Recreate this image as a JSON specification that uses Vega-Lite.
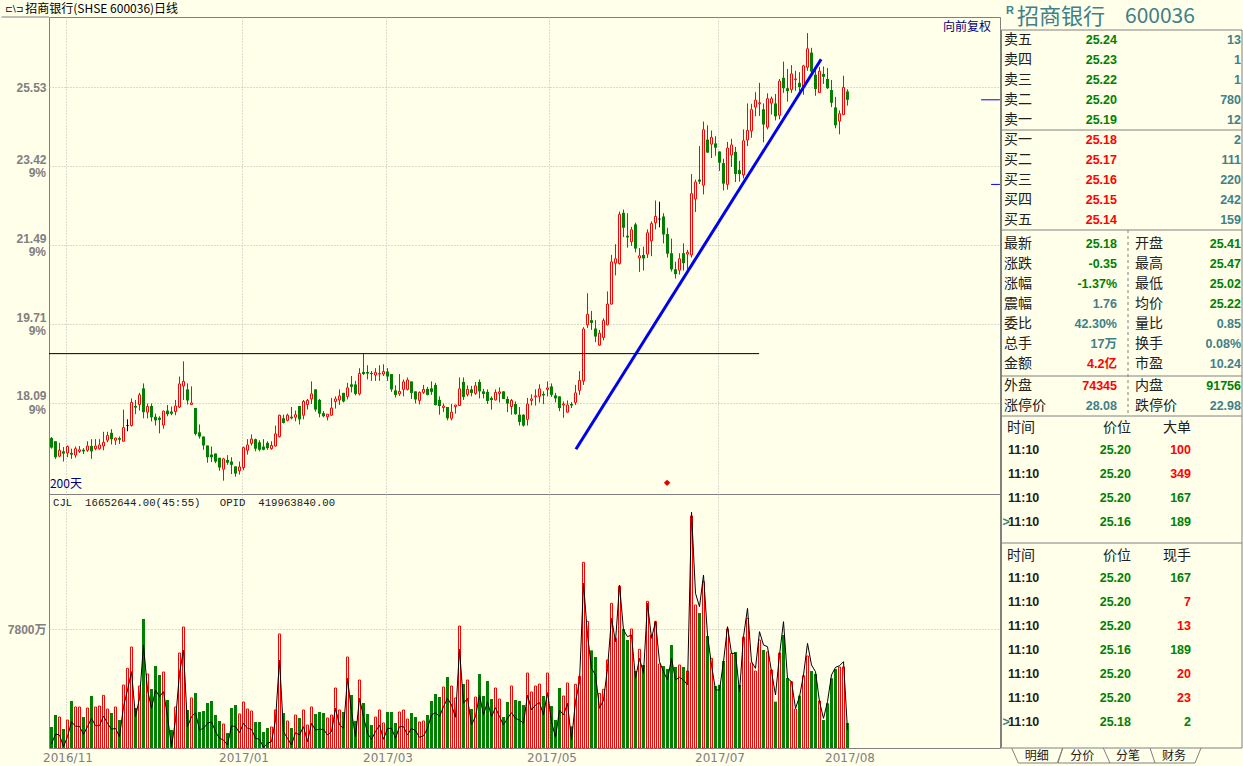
{"$schema":"https://vega.github.io/schema/vega-lite/v6.json","background":"#FFFFEA","padding":0,"autosize":{"type":"pad"},"spacing":0,
"config":{"view":{"stroke":null},"concat":{"spacing":0},"axis":{"title":null},"text":{"font":"Noto Sans CJK SC"}},
"datasets":{"d":[
{"i":0,"o":17.41,"h":17.43,"l":17.21,"c":17.23,"v":1377,"m":262},
{"i":1,"o":17.35,"h":17.35,"l":17.02,"c":17.05,"v":2163,"m":918},
{"i":2,"o":17.07,"h":17.32,"l":17.05,"c":17.18,"v":2032,"m":852},
{"i":3,"o":17.16,"h":17.24,"l":16.97,"c":17.12,"v":1245,"m":87},
{"i":4,"o":17.13,"h":17.27,"l":17.05,"c":17.25,"v":1835,"m":743},
{"i":5,"o":17.13,"h":17.21,"l":17.02,"c":17.10,"v":3081,"m":1726},
{"i":6,"o":17.09,"h":17.25,"l":17.04,"c":17.21,"v":2688,"m":1420},
{"i":7,"o":17.16,"h":17.26,"l":17.13,"c":17.19,"v":2688,"m":1420},
{"i":8,"o":17.19,"h":17.22,"l":17.11,"c":17.16,"v":2032,"m":896},
{"i":9,"o":17.18,"h":17.35,"l":17.15,"c":17.26,"v":2622,"m":1398},
{"i":10,"o":17.26,"h":17.39,"l":17.02,"c":17.16,"v":3409,"m":1945},
{"i":11,"o":17.21,"h":17.39,"l":17.18,"c":17.26,"v":2688,"m":1464},
{"i":12,"o":17.21,"h":17.39,"l":17.19,"c":17.28,"v":2753,"m":1464},
{"i":13,"o":17.26,"h":17.53,"l":17.18,"c":17.33,"v":3452,"m":2098},
{"i":14,"o":17.37,"h":17.53,"l":17.33,"c":17.46,"v":2556,"m":1617},
{"i":15,"o":17.51,"h":17.58,"l":17.29,"c":17.39,"v":2294,"m":1224},
{"i":16,"o":17.37,"h":17.42,"l":17.28,"c":17.41,"v":2688,"m":1289},
{"i":17,"o":17.41,"h":17.44,"l":17.30,"c":17.38,"v":1835,"m":743},
{"i":18,"o":17.35,"h":17.96,"l":17.35,"c":17.61,"v":4130,"m":2709},
{"i":19,"o":17.65,"h":17.77,"l":17.54,"c":17.65,"v":5222,"m":3802},
{"i":20,"o":17.65,"h":18.18,"l":17.63,"c":18.10,"v":6621,"m":5004},
{"i":21,"o":18.03,"h":18.15,"l":17.87,"c":18.00,"v":2622,"m":2054},
{"i":22,"o":18.06,"h":18.29,"l":17.94,"c":18.25,"v":4064,"m":3256},
{"i":23,"o":18.38,"h":18.48,"l":17.79,"c":17.91,"v":8456,"m":6752},
{"i":24,"o":17.91,"h":18.08,"l":17.79,"c":18.02,"v":4851,"m":3802},
{"i":25,"o":18.03,"h":18.08,"l":17.73,"c":17.81,"v":3867,"m":2600},
{"i":26,"o":17.82,"h":17.88,"l":17.65,"c":17.75,"v":5375,"m":3802},
{"i":27,"o":17.80,"h":17.83,"l":17.50,"c":17.76,"v":4785,"m":3365},
{"i":28,"o":17.66,"h":17.94,"l":17.59,"c":17.93,"v":4982,"m":3693},
{"i":29,"o":17.94,"h":18.05,"l":17.83,"c":17.87,"v":3146,"m":2054},
{"i":30,"o":17.92,"h":18.02,"l":17.85,"c":17.88,"v":1180,"m":87},
{"i":31,"o":17.92,"h":18.15,"l":17.85,"c":18.03,"v":2688,"m":1835},
{"i":32,"o":18.01,"h":18.62,"l":17.99,"c":18.47,"v":6227,"m":4894},
{"i":33,"o":18.43,"h":18.93,"l":18.15,"c":18.52,"v":7932,"m":6424},
{"i":34,"o":18.36,"h":18.48,"l":18.06,"c":18.14,"v":2491,"m":1398},
{"i":35,"o":18.06,"h":18.42,"l":18.06,"c":18.09,"v":3278,"m":2054},
{"i":36,"o":17.99,"h":17.99,"l":17.46,"c":17.49,"v":3605,"m":2316},
{"i":37,"o":17.52,"h":17.67,"l":17.40,"c":17.44,"v":2360,"m":1180},
{"i":38,"o":17.44,"h":17.44,"l":17.19,"c":17.27,"v":2425,"m":1289},
{"i":39,"o":17.27,"h":17.27,"l":16.95,"c":17.05,"v":2950,"m":1617},
{"i":40,"o":17.10,"h":17.25,"l":16.96,"c":17.05,"v":3081,"m":1726},
{"i":41,"o":17.12,"h":17.12,"l":16.94,"c":16.97,"v":2163,"m":1071},
{"i":42,"o":17.04,"h":17.04,"l":16.80,"c":16.86,"v":1770,"m":634},
{"i":43,"o":16.83,"h":17.04,"l":16.62,"c":17.02,"v":1573,"m":524},
{"i":44,"o":17.00,"h":17.09,"l":16.91,"c":16.95,"v":983,"m":197},
{"i":45,"o":16.97,"h":17.05,"l":16.74,"c":16.91,"v":2622,"m":1464},
{"i":46,"o":16.88,"h":16.88,"l":16.69,"c":16.75,"v":2819,"m":1398},
{"i":47,"o":16.80,"h":16.97,"l":16.73,"c":16.87,"v":2229,"m":1005},
{"i":48,"o":16.86,"h":17.25,"l":16.81,"c":17.23,"v":3015,"m":1617},
{"i":49,"o":17.18,"h":17.39,"l":17.10,"c":17.28,"v":2556,"m":1289},
{"i":50,"o":17.31,"h":17.48,"l":17.27,"c":17.39,"v":2425,"m":1224},
{"i":51,"o":17.39,"h":17.40,"l":17.16,"c":17.21,"v":1704,"m":634},
{"i":52,"o":17.33,"h":17.37,"l":17.16,"c":17.19,"v":1704,"m":568},
{"i":53,"o":17.25,"h":17.39,"l":17.18,"c":17.19,"v":1049,"m":44},
{"i":54,"o":17.32,"h":17.35,"l":17.19,"c":17.22,"v":1311,"m":306},
{"i":55,"o":17.21,"h":17.35,"l":17.19,"c":17.27,"v":1377,"m":415},
{"i":56,"o":17.26,"h":17.65,"l":17.25,"c":17.49,"v":2491,"m":1835},
{"i":57,"o":17.44,"h":17.86,"l":17.42,"c":17.85,"v":7473,"m":5768},
{"i":58,"o":17.79,"h":17.86,"l":17.69,"c":17.70,"v":2294,"m":1071},
{"i":59,"o":17.75,"h":17.88,"l":17.73,"c":17.85,"v":1770,"m":634},
{"i":60,"o":17.82,"h":18.01,"l":17.77,"c":17.79,"v":1311,"m":197},
{"i":61,"o":17.81,"h":17.94,"l":17.73,"c":17.86,"v":2163,"m":1005},
{"i":62,"o":18.03,"h":18.03,"l":17.67,"c":17.77,"v":1967,"m":852},
{"i":63,"o":17.85,"h":18.15,"l":17.77,"c":18.12,"v":2491,"m":1398},
{"i":64,"o":18.06,"h":18.17,"l":17.96,"c":18.14,"v":1508,"m":415},
{"i":65,"o":18.17,"h":18.52,"l":18.07,"c":18.27,"v":2688,"m":1617},
{"i":66,"o":18.36,"h":18.36,"l":17.92,"c":17.96,"v":2229,"m":1180},
{"i":67,"o":18.15,"h":18.17,"l":17.81,"c":17.88,"v":2360,"m":1224},
{"i":68,"o":17.89,"h":17.93,"l":17.81,"c":17.83,"v":2294,"m":1224},
{"i":69,"o":17.82,"h":17.87,"l":17.75,"c":17.87,"v":1967,"m":852},
{"i":70,"o":17.85,"h":18.19,"l":17.84,"c":17.99,"v":2163,"m":1071},
{"i":71,"o":18.12,"h":18.22,"l":17.98,"c":18.17,"v":3933,"m":2600},
{"i":72,"o":18.15,"h":18.36,"l":18.05,"c":18.23,"v":2491,"m":1508},
{"i":73,"o":18.29,"h":18.29,"l":18.10,"c":18.12,"v":2360,"m":1289},
{"i":74,"o":18.22,"h":18.49,"l":18.16,"c":18.39,"v":5965,"m":4567},
{"i":75,"o":18.46,"h":18.63,"l":18.30,"c":18.41,"v":3474,"m":2382},
{"i":76,"o":18.46,"h":18.53,"l":18.24,"c":18.27,"v":1770,"m":743},
{"i":77,"o":18.27,"h":18.79,"l":18.24,"c":18.68,"v":4457,"m":3256},
{"i":78,"o":18.71,"h":19.10,"l":18.65,"c":18.67,"v":2950,"m":2054},
{"i":79,"o":18.71,"h":18.85,"l":18.56,"c":18.68,"v":2229,"m":961},
{"i":80,"o":18.69,"h":18.73,"l":18.53,"c":18.67,"v":1508,"m":568},
{"i":81,"o":18.65,"h":18.79,"l":18.53,"c":18.70,"v":2032,"m":1071},
{"i":82,"o":18.67,"h":18.85,"l":18.53,"c":18.68,"v":2491,"m":1508},
{"i":83,"o":18.67,"h":18.87,"l":18.63,"c":18.72,"v":1639,"m":568},
{"i":84,"o":18.72,"h":18.79,"l":18.53,"c":18.62,"v":2360,"m":1289},
{"i":85,"o":18.67,"h":18.67,"l":18.31,"c":18.36,"v":2360,"m":1289},
{"i":86,"o":18.34,"h":18.44,"l":18.20,"c":18.25,"v":1639,"m":634},
{"i":87,"o":18.27,"h":18.67,"l":18.23,"c":18.32,"v":2360,"m":1398},
{"i":88,"o":18.36,"h":18.56,"l":18.22,"c":18.51,"v":2491,"m":1398},
{"i":89,"o":18.36,"h":18.60,"l":18.34,"c":18.55,"v":1901,"m":852},
{"i":90,"o":18.52,"h":18.52,"l":18.17,"c":18.29,"v":2294,"m":1289},
{"i":91,"o":18.32,"h":18.32,"l":18.08,"c":18.16,"v":2032,"m":1136},
{"i":92,"o":18.14,"h":18.32,"l":18.06,"c":18.30,"v":1704,"m":699},
{"i":93,"o":18.30,"h":18.45,"l":18.27,"c":18.36,"v":1770,"m":787},
{"i":94,"o":18.37,"h":18.41,"l":18.24,"c":18.25,"v":2163,"m":1289},
{"i":95,"o":18.38,"h":18.52,"l":18.25,"c":18.31,"v":3081,"m":2163},
{"i":96,"o":18.45,"h":18.49,"l":18.04,"c":18.05,"v":3540,"m":2316},
{"i":97,"o":18.15,"h":18.22,"l":17.86,"c":18.03,"v":3343,"m":2054},
{"i":98,"o":18.00,"h":18.08,"l":17.91,"c":18.03,"v":3999,"m":2709},
{"i":99,"o":18.01,"h":18.01,"l":17.75,"c":17.79,"v":4654,"m":3256},
{"i":100,"o":17.79,"h":18.07,"l":17.75,"c":17.91,"v":4064,"m":2819},
{"i":101,"o":18.02,"h":18.05,"l":17.88,"c":18.05,"v":3278,"m":2010},
{"i":102,"o":18.04,"h":18.60,"l":18.04,"c":18.37,"v":7997,"m":6468},
{"i":103,"o":18.51,"h":18.60,"l":18.15,"c":18.21,"v":4195,"m":2928},
{"i":104,"o":18.26,"h":18.44,"l":18.22,"c":18.36,"v":4457,"m":3256},
{"i":105,"o":18.36,"h":18.43,"l":18.22,"c":18.29,"v":2556,"m":1508},
{"i":106,"o":18.28,"h":18.51,"l":18.25,"c":18.43,"v":3343,"m":2054},
{"i":107,"o":18.51,"h":18.56,"l":18.18,"c":18.32,"v":4851,"m":3474},
{"i":108,"o":18.32,"h":18.37,"l":18.18,"c":18.27,"v":3409,"m":2163},
{"i":109,"o":18.31,"h":18.36,"l":18.07,"c":18.13,"v":4392,"m":3037},
{"i":110,"o":18.19,"h":18.22,"l":17.96,"c":18.15,"v":3212,"m":2054},
{"i":111,"o":18.15,"h":18.36,"l":18.14,"c":18.30,"v":3933,"m":2644},
{"i":112,"o":18.28,"h":18.40,"l":18.10,"c":18.31,"v":3212,"m":2054},
{"i":113,"o":18.32,"h":18.32,"l":18.17,"c":18.17,"v":2032,"m":1508},
{"i":114,"o":18.17,"h":18.22,"l":17.91,"c":18.08,"v":3015,"m":1945},
{"i":115,"o":18.02,"h":18.17,"l":17.86,"c":18.14,"v":4064,"m":2316},
{"i":116,"o":18.07,"h":18.12,"l":17.86,"c":17.87,"v":3146,"m":1945},
{"i":117,"o":17.86,"h":18.01,"l":17.65,"c":17.72,"v":3081,"m":1835},
{"i":118,"o":17.86,"h":17.87,"l":17.63,"c":17.65,"v":2819,"m":1617},
{"i":119,"o":17.77,"h":18.19,"l":17.65,"c":18.07,"v":4916,"m":3474},
{"i":120,"o":18.14,"h":18.26,"l":18.04,"c":18.17,"v":3671,"m":2491},
{"i":121,"o":18.21,"h":18.36,"l":18.04,"c":18.23,"v":4064,"m":2819},
{"i":122,"o":18.22,"h":18.46,"l":18.10,"c":18.37,"v":4195,"m":2972},
{"i":123,"o":18.27,"h":18.32,"l":18.07,"c":18.24,"v":3409,"m":2163},
{"i":124,"o":18.36,"h":18.52,"l":18.22,"c":18.39,"v":4916,"m":3627},
{"i":125,"o":18.42,"h":18.48,"l":18.21,"c":18.25,"v":2753,"m":1726},
{"i":126,"o":18.24,"h":18.29,"l":18.10,"c":18.18,"v":1835,"m":699},
{"i":127,"o":18.22,"h":18.22,"l":17.93,"c":17.99,"v":3933,"m":2491},
{"i":128,"o":18.05,"h":18.12,"l":17.80,"c":18.07,"v":3409,"m":2163},
{"i":129,"o":17.91,"h":18.14,"l":17.90,"c":18.05,"v":4261,"m":2928},
{"i":130,"o":18.07,"h":18.11,"l":17.99,"c":18.04,"v":1420,"m":524},
{"i":131,"o":18.10,"h":18.45,"l":18.05,"c":18.29,"v":4173,"m":3037},
{"i":132,"o":18.34,"h":18.73,"l":18.25,"c":18.54,"v":4698,"m":4348},
{"i":133,"o":18.53,"h":19.65,"l":18.45,"c":19.61,"v":12170,"m":10794},
{"i":134,"o":19.70,"h":20.39,"l":19.63,"c":19.93,"v":8303,"m":7407},
{"i":135,"o":19.80,"h":20.00,"l":19.59,"c":19.74,"v":6402,"m":5222},
{"i":136,"o":19.62,"h":19.80,"l":19.33,"c":19.45,"v":5965,"m":4785},
{"i":137,"o":19.27,"h":19.59,"l":19.26,"c":19.52,"v":3583,"m":2600},
{"i":138,"o":19.43,"h":19.84,"l":19.37,"c":19.79,"v":3846,"m":3146},
{"i":139,"o":19.70,"h":20.43,"l":19.69,"c":20.15,"v":5768,"m":5222},
{"i":140,"o":20.15,"h":21.26,"l":20.14,"c":21.10,"v":9483,"m":8500},
{"i":141,"o":21.07,"h":21.51,"l":20.79,"c":21.17,"v":7189,"m":6970},
{"i":142,"o":21.06,"h":22.29,"l":21.04,"c":22.22,"v":10597,"m":10685},
{"i":143,"o":22.26,"h":22.34,"l":21.68,"c":21.90,"v":7800,"m":7735},
{"i":144,"o":21.71,"h":22.25,"l":21.43,"c":21.67,"v":7079,"m":7298},
{"i":145,"o":21.57,"h":21.92,"l":21.47,"c":21.85,"v":7800,"m":7407},
{"i":146,"o":21.98,"h":22.02,"l":21.32,"c":21.41,"v":5047,"m":4567},
{"i":147,"o":21.19,"h":21.42,"l":20.87,"c":21.24,"v":6468,"m":5878},
{"i":148,"o":21.26,"h":21.45,"l":20.90,"c":21.18,"v":5441,"m":4894},
{"i":149,"o":21.28,"h":21.86,"l":21.19,"c":21.78,"v":9614,"m":9483},
{"i":150,"o":21.59,"h":22.05,"l":21.23,"c":22.00,"v":7407,"m":7189},
{"i":151,"o":22.02,"h":22.56,"l":21.86,"c":22.17,"v":8303,"m":8281},
{"i":152,"o":22.11,"h":22.53,"l":21.91,"c":22.11,"v":5506,"m":5659},
{"i":153,"o":22.17,"h":22.25,"l":21.53,"c":21.74,"v":5375,"m":5004},
{"i":154,"o":21.75,"h":21.90,"l":21.20,"c":21.29,"v":5178,"m":4457},
{"i":155,"o":21.30,"h":21.64,"l":20.88,"c":20.93,"v":6752,"m":5878},
{"i":156,"o":20.93,"h":21.10,"l":20.72,"c":20.82,"v":5310,"m":4457},
{"i":157,"o":20.91,"h":21.30,"l":20.81,"c":21.17,"v":5441,"m":4632},
{"i":158,"o":21.30,"h":21.53,"l":20.90,"c":21.07,"v":5310,"m":4457},
{"i":159,"o":21.28,"h":21.38,"l":20.93,"c":21.32,"v":5047,"m":4130},
{"i":160,"o":21.26,"h":23.22,"l":21.20,"c":22.73,"v":15208,"m":15448},
{"i":161,"o":22.60,"h":23.08,"l":22.28,"c":23.02,"v":9374,"m":10138},
{"i":162,"o":23.08,"h":23.94,"l":22.97,"c":23.03,"v":8849,"m":9264},
{"i":163,"o":22.94,"h":24.59,"l":22.71,"c":24.37,"v":10903,"m":11340},
{"i":164,"o":24.11,"h":24.49,"l":23.77,"c":23.77,"v":7342,"m":7407},
{"i":165,"o":23.99,"h":24.35,"l":23.63,"c":24.17,"v":5878,"m":5441},
{"i":166,"o":24.01,"h":24.20,"l":23.69,"c":23.90,"v":4064,"m":3802},
{"i":167,"o":23.80,"h":23.80,"l":23.30,"c":23.51,"v":4130,"m":3802},
{"i":168,"o":23.50,"h":23.61,"l":22.81,"c":22.98,"v":5703,"m":5659},
{"i":169,"o":22.96,"h":24.05,"l":22.83,"c":23.89,"v":7800,"m":7953},
{"i":170,"o":23.71,"h":24.13,"l":23.40,"c":23.97,"v":6205,"m":6205},
{"i":171,"o":23.79,"h":23.92,"l":23.02,"c":23.22,"v":6293,"m":6205},
{"i":172,"o":23.32,"h":23.56,"l":23.03,"c":23.22,"v":4130,"m":3693},
{"i":173,"o":23.20,"h":24.38,"l":23.11,"c":24.08,"v":7276,"m":7298},
{"i":174,"o":24.10,"h":25.08,"l":23.94,"c":24.35,"v":8500,"m":9155},
{"i":175,"o":24.34,"h":25.07,"l":24.16,"c":24.91,"v":5572,"m":5659},
{"i":176,"o":24.98,"h":25.39,"l":24.73,"c":25.17,"v":5047,"m":5222},
{"i":177,"o":25.07,"h":25.65,"l":24.74,"c":25.10,"v":7079,"m":7626},
{"i":178,"o":24.92,"h":25.08,"l":24.04,"c":24.51,"v":6424,"m":6752},
{"i":179,"o":24.44,"h":25.36,"l":24.38,"c":25.21,"v":6293,"m":6642},
{"i":180,"o":25.09,"h":25.27,"l":24.78,"c":25.21,"v":5113,"m":5004},
{"i":181,"o":25.08,"h":25.34,"l":24.62,"c":24.73,"v":3037,"m":3474},
{"i":182,"o":24.76,"h":25.76,"l":24.65,"c":25.70,"v":6227,"m":6096},
{"i":183,"o":25.79,"h":26.25,"l":25.37,"c":25.50,"v":7407,"m":8281},
{"i":184,"o":25.50,"h":26.04,"l":25.13,"c":25.42,"v":4589,"m":4567},
{"i":185,"o":25.46,"h":26.15,"l":25.37,"c":25.90,"v":4348,"m":4348},
{"i":186,"o":25.74,"h":25.99,"l":25.43,"c":25.76,"v":2556,"m":2600},
{"i":187,"o":25.65,"h":25.95,"l":25.42,"c":25.53,"v":3430,"m":3365},
{"i":188,"o":25.54,"h":26.16,"l":25.32,"c":26.13,"v":4741,"m":4785},
{"i":189,"o":26.09,"h":27.08,"l":25.99,"c":26.62,"v":6031,"m":6861},
{"i":190,"o":26.51,"h":26.65,"l":25.88,"c":25.97,"v":5047,"m":5441},
{"i":191,"o":25.88,"h":26.11,"l":25.29,"c":25.48,"v":4851,"m":5004},
{"i":192,"o":25.38,"h":26.10,"l":25.37,"c":25.98,"v":3081,"m":3037},
{"i":193,"o":25.90,"h":26.11,"l":25.62,"c":25.82,"v":1835,"m":1945},
{"i":194,"o":25.76,"h":26.07,"l":25.48,"c":25.50,"v":2928,"m":3037},
{"i":195,"o":25.45,"h":25.73,"l":24.98,"c":25.10,"v":4567,"m":4785},
{"i":196,"o":24.97,"h":25.26,"l":24.41,"c":24.49,"v":5178,"m":5288},
{"i":197,"o":24.60,"h":24.89,"l":24.25,"c":24.80,"v":5310,"m":5397},
{"i":198,"o":24.78,"h":25.85,"l":24.76,"c":25.52,"v":5310,"m":5659},
{"i":199,"o":25.41,"h":25.47,"l":25.02,"c":25.18,"v":1639,"m":1180}
]},
"hconcat":[
{"bounds":"flush","spacing":0,"vconcat":[
{"width":951,"height":17,"data":{"values":[{"col":-50,"col2":0,"row":0}]},
 "layer":[
 {"mark":{"type":"rule","color":"#808080","strokeWidth":1},"encoding":{"x":{"field":"col","type":"quantitative","scale":{"domain":[0,951]},"axis":null},"x2":{"field":"col2"},"y":{"field":"row","type":"quantitative","scale":{"domain":[0,1]},"axis":null}}},
 {"data":{"values":[{"col":-46,"row":0.5,"t":"⊏\\⊐"}]},"mark":{"type":"text","align":"left","font":"DejaVu Sans","fontSize":9,"color":"#000000"},"encoding":{"x":{"field":"col","type":"quantitative"},"y":{"field":"row","type":"quantitative"},"text":{"field":"t"}}},
 {"data":{"values":[{"col":-25,"row":0.5,"t":"招商银行(SHSE 600036)日线"}]},"mark":{"type":"text","align":"left","fontSize":12,"color":"#000000"},"encoding":{"x":{"field":"col","type":"quantitative"},"y":{"field":"row","type":"quantitative"},"text":{"field":"t"}}}
 ]},
{"width":951,"height":477,"view":{"stroke":"#808080"},"data":{"name":"d"},
 "encoding":{"x":{"field":"i","type":"quantitative","scale":{"domain":[-0.625,237.125],"nice":false,"zero":false,"padding":0},"axis":{"values":[3.5,47.5,83.5,124.5,166.5],"labels":false,"ticks":false,"domain":false,"grid":true,"gridColor":"#B4B4B4","gridDash":[1,2]}}},
 "layer":[
 {"mark":{"type":"rule","color":"#FF0000","strokeWidth":1},"transform":[{"filter":"datum.c>datum.o"}],"encoding":{"y":{"field":"h","type":"quantitative","scale":{"type":"log","domain":[16.38,27.56],"nice":false,"zero":false},"axis":{"values":[25.53,23.42,21.49,19.71,18.09],"format":".2f","ticks":false,"domain":false,"grid":true,"gridColor":"#B4B4B4","gridDash":[1,2],"labelFont":"Liberation Sans","labelFontWeight":"bold","labelFontSize":12,"labelColor":"#808080","labelPadding":3,"labelOffset":{"condition":{"test":"datum.value>25","value":0},"value":-7}}},"y2":{"field":"l"}}},
 {"mark":{"type":"rule","color":"#007F00","strokeWidth":1},"transform":[{"filter":"datum.c<datum.o"}],"encoding":{"y":{"field":"h","type":"quantitative"},"y2":{"field":"l"}}},
 {"mark":{"type":"rule","color":"#000000","strokeWidth":1},"transform":[{"filter":"datum.c==datum.o"}],"encoding":{"y":{"field":"h","type":"quantitative"},"y2":{"field":"l"}}},
 {"mark":{"type":"bar","size":2,"fill":"#FFFFEA","stroke":"#FF0000","strokeWidth":1},"transform":[{"filter":"datum.c>datum.o"}],"encoding":{"y":{"field":"o","type":"quantitative"},"y2":{"field":"c"}}},
 {"mark":{"type":"bar","size":3,"fill":"#007F00"},"transform":[{"filter":"datum.c<datum.o"}],"encoding":{"y":{"field":"o","type":"quantitative"},"y2":{"field":"c"}}},
 {"mark":{"type":"tick","color":"#000000","orient":"horizontal","size":3,"thickness":1},"transform":[{"filter":"datum.c==datum.o"}],"encoding":{"y":{"field":"o","type":"quantitative"}}},
 {"data":{"values":[{"i":-0.625,"p":19.09},{"i":176.9,"p":19.09}]},"mark":{"type":"line","color":"#000000","strokeWidth":1},"encoding":{"x":{"field":"i","type":"quantitative"},"y":{"field":"p","type":"quantitative"}}},
 {"data":{"values":[{"i":131.1,"p":17.2},{"i":192.4,"p":26.32}]},"mark":{"type":"line","color":"#0000F0","strokeWidth":3},"encoding":{"x":{"field":"i","type":"quantitative"},"y":{"field":"p","type":"quantitative"}}},
 {"data":{"values":[{"i":232.4,"i2":237.1,"p":25.18},{"i":234.9,"i2":237.1,"p":22.96}]},"mark":{"type":"rule","color":"#0000FF","strokeWidth":1},"encoding":{"x":{"field":"i","type":"quantitative"},"x2":{"field":"i2"},"y":{"field":"p","type":"quantitative"}}},
 {"data":{"values":[{"i":153.9,"p":16.58}]},"mark":{"type":"point","shape":"diamond","filled":true,"size":42,"color":"#E00000","opacity":1},"encoding":{"x":{"field":"i","type":"quantitative"},"y":{"field":"p","type":"quantitative"}}},
 {"data":{"values":[{"i":-0.625,"p":23.42,"t":"9%"},{"i":-0.625,"p":21.49,"t":"9%"},{"i":-0.625,"p":19.71,"t":"9%"},{"i":-0.625,"p":18.09,"t":"9%"}]},"mark":{"type":"text","align":"right","dx":-3,"dy":7,"font":"Liberation Sans","fontWeight":"bold","fontSize":12,"color":"#808080"},"encoding":{"x":{"field":"i","type":"quantitative"},"y":{"field":"p","type":"quantitative"},"text":{"field":"t"}}},
 {"data":{"values":[{"i":-0.4,"p":16.56,"t":"200天"}]},"mark":{"type":"text","align":"left","fontSize":12,"color":"#000080"},"encoding":{"x":{"field":"i","type":"quantitative"},"y":{"field":"p","type":"quantitative"},"text":{"field":"t"}}},
 {"data":{"values":[{"i":234.9,"p":27.26,"t":"向前复权"}]},"mark":{"type":"text","align":"right","fontSize":12,"color":"#000080"},"encoding":{"x":{"field":"i","type":"quantitative"},"y":{"field":"p","type":"quantitative"},"text":{"field":"t"}}}
 ]},
{"width":951,"height":254,"view":{"stroke":"#808080"},"data":{"name":"d"},
 "encoding":{"x":{"field":"i","type":"quantitative","scale":{"domain":[-0.625,237.125],"nice":false,"zero":false,"padding":0},"axis":{"values":[3.5,47.5,83.5,124.5,166.5,199],"labelExpr":"datum.value==3.5?'2016/11':datum.value==47.5?'2017/01':datum.value==83.5?'2017/03':datum.value==124.5?'2017/05':datum.value==166.5?'2017/07':'2017/08'","labelFont":"DejaVu Sans","labelFontSize":12,"labelColor":"#808080","labelPadding":4,"labelOffset":2,"labelOverlap":false,"labelBound":false,"labelFlush":false,"ticks":false,"domain":false,"grid":true,"gridColor":"#B4B4B4","gridDash":[1,2],"gridOpacity":{"condition":{"test":"datum.value==199","value":0},"value":1}}}},
 "layer":[
 {"mark":{"type":"bar","size":2,"fill":"#FFFFEA","stroke":"#FF0000","strokeWidth":1},"transform":[{"filter":"datum.c>=datum.o"}],"encoding":{"y":{"field":"v","type":"quantitative","scale":{"domain":[0,16650],"nice":false},"axis":{"values":[7800],"labelExpr":"'7800万'","ticks":false,"domain":false,"grid":true,"gridColor":"#B4B4B4","gridDash":[1,2],"labelFont":"Liberation Sans, Noto Sans CJK SC","labelFontWeight":"bold","labelFontSize":12,"labelColor":"#808080","labelPadding":3}}}},
 {"mark":{"type":"bar","size":3,"fill":"#007F00"},"transform":[{"filter":"datum.c<datum.o"}],"encoding":{"y":{"field":"v","type":"quantitative"}}},
 {"mark":{"type":"line","color":"#000000","strokeWidth":1},"encoding":{"y":{"field":"m","type":"quantitative"}}},
 {"data":{"values":[{"i":0.375,"v":16060,"t":"CJL\u00a0\u00a016652644.00(45:55)\u00a0\u00a0\u00a0OPID\u00a0\u00a0419963840.00"}]},"mark":{"type":"text","align":"left","font":"Liberation Mono","fontSize":10.7,"color":"#202020"},"encoding":{"x":{"field":"i","type":"quantitative"},"y":{"field":"v","type":"quantitative"},"text":{"field":"t"}}}
 ]}
]},
{"width":242,"height":766,"data":{"values":[
{"col":0.5,"col2":0.5,"row":0.55,"row2":36.45},{"col":241,"col2":241,"row":0.55,"row2":36.45},
{"col":0.5,"col2":241,"row":0.55,"row2":0.55},{"col":0.5,"col2":241,"row":5.55,"row2":5.55},{"col":0.5,"col2":241,"row":10.55,"row2":10.55},{"col":0.5,"col2":241,"row":17.85,"row2":17.85},{"col":0.5,"col2":241,"row":19.85,"row2":19.85},{"col":0.5,"col2":241,"row":26.2,"row2":26.2},{"col":0.5,"col2":241,"row":36.45,"row2":36.45}]},
 "encoding":{"x":{"field":"col","type":"quantitative","scale":{"domain":[0,242],"nice":false,"zero":false},"axis":null},"y":{"field":"row","type":"quantitative","scale":{"domain":[37.35,-0.95],"nice":false,"zero":false},"axis":null}},
 "layer":[
 {"mark":{"type":"rule","color":"#808080","strokeWidth":1},"encoding":{"x2":{"field":"col2"},"y2":{"field":"row2"}}},
 {"data":{"values":[{"col":127,"col2":127,"row":10.55,"row2":19.85}]},"mark":{"type":"rule","color":"#808080","strokeWidth":1,"strokeDash":[3,3]},"encoding":{"x2":{"field":"col2"},"y2":{"field":"row2"}}},
 {"data":{"values":[
 {"tab":1,"n":1,"col":10.7,"row":36.45},{"tab":1,"n":2,"col":17.3,"row":37.2},{"tab":1,"n":3,"col":56.3,"row":37.2},{"tab":1,"n":4,"col":61.7,"row":36.45},
 {"tab":2,"n":1,"col":61.7,"row":36.45},{"tab":2,"n":2,"col":57,"row":37.2},{"tab":2,"n":3,"col":109,"row":37.2},{"tab":2,"n":4,"col":102.3,"row":36.45},
 {"tab":3,"n":1,"col":109,"row":37.2},{"tab":3,"n":2,"col":154,"row":37.2},{"tab":3,"n":3,"col":149,"row":36.45},
 {"tab":4,"n":1,"col":154,"row":37.2},{"tab":4,"n":2,"col":194,"row":37.2},{"tab":4,"n":3,"col":200,"row":36.45}]},
 "mark":{"type":"line","color":"#808080","strokeWidth":1},"encoding":{"detail":{"field":"tab"},"order":{"field":"n","type":"quantitative"}}},
 {"data":{"values":[{"col":35.7,"row":36.85,"t":"明细"},{"col":81.3,"row":36.85,"t":"分价"},{"col":127,"row":36.85,"t":"分笔"},{"col":173,"row":36.85,"t":"财务"}]},"mark":{"type":"text","align":"center","fontSize":12,"color":"#202020"},"encoding":{"text":{"field":"t"}}},
 {"data":{"values":[{"col":16,"row":-0.1,"t":"招商银行"}]},"mark":{"type":"text","align":"left","fontSize":22,"color":"#408088"},"encoding":{"text":{"field":"t"}}},
 {"data":{"values":[{"col":124,"row":-0.1,"t":"600036"}]},"mark":{"type":"text","align":"left","fontSize":21,"color":"#408088"},"encoding":{"text":{"field":"t"}}},
 {"data":{"values":[{"col":5,"row":-0.42,"t":"R"}]},"mark":{"type":"text","align":"left","font":"Liberation Sans","fontWeight":"bold","fontSize":11,"color":"#408088"},"encoding":{"text":{"field":"t"}}},
 {"data":{"values":[
 {"col":3,"row":1,"t":"卖五"},{"col":3,"row":2,"t":"卖四"},{"col":3,"row":3,"t":"卖三"},{"col":3,"row":4,"t":"卖二"},{"col":3,"row":5,"t":"卖一"},
 {"col":3,"row":6,"t":"买一"},{"col":3,"row":7,"t":"买二"},{"col":3,"row":8,"t":"买三"},{"col":3,"row":9,"t":"买四"},{"col":3,"row":10,"t":"买五"},
 {"col":3,"row":11.2,"t":"最新"},{"col":3,"row":12.2,"t":"涨跌"},{"col":3,"row":13.2,"t":"涨幅"},{"col":3,"row":14.2,"t":"震幅"},{"col":3,"row":15.2,"t":"委比"},{"col":3,"row":16.2,"t":"总手"},{"col":3,"row":17.2,"t":"金额"},{"col":3,"row":18.3,"t":"外盘"},{"col":3,"row":19.3,"t":"涨停价"},
 {"col":134,"row":11.2,"t":"开盘"},{"col":134,"row":12.2,"t":"最高"},{"col":134,"row":13.2,"t":"最低"},{"col":134,"row":14.2,"t":"均价"},{"col":134,"row":15.2,"t":"量比"},{"col":134,"row":16.2,"t":"换手"},{"col":134,"row":17.2,"t":"市盈"},{"col":134,"row":18.3,"t":"内盘"},{"col":134,"row":19.3,"t":"跌停价"},
 {"col":6,"row":20.4,"t":"时间"},{"col":6,"row":26.8,"t":"时间"}]},
 "mark":{"type":"text","align":"left","fontSize":14,"dy":1,"color":"#202020"},"encoding":{"text":{"field":"t"}}},
 {"data":{"values":[{"col":130,"row":20.4,"t":"价位"},{"col":190,"row":20.4,"t":"大单"},{"col":130,"row":26.8,"t":"价位"},{"col":190,"row":26.8,"t":"现手"}]},
 "mark":{"type":"text","align":"right","fontSize":14,"dy":1,"color":"#202020"},"encoding":{"text":{"field":"t"}}},
 {"data":{"values":[
 {"col":116,"row":1,"t":"25.24","k":"g"},{"col":116,"row":2,"t":"25.23","k":"g"},{"col":116,"row":3,"t":"25.22","k":"g"},{"col":116,"row":4,"t":"25.20","k":"g"},{"col":116,"row":5,"t":"25.19","k":"g"},
 {"col":116,"row":6,"t":"25.18","k":"r"},{"col":116,"row":7,"t":"25.17","k":"r"},{"col":116,"row":8,"t":"25.16","k":"r"},{"col":116,"row":9,"t":"25.15","k":"r"},{"col":116,"row":10,"t":"25.14","k":"r"},
 {"col":240,"row":1,"t":"13","k":"t"},{"col":240,"row":2,"t":"1","k":"t"},{"col":240,"row":3,"t":"1","k":"t"},{"col":240,"row":4,"t":"780","k":"t"},{"col":240,"row":5,"t":"12","k":"t"},
 {"col":240,"row":6,"t":"2","k":"t"},{"col":240,"row":7,"t":"111","k":"t"},{"col":240,"row":8,"t":"220","k":"t"},{"col":240,"row":9,"t":"242","k":"t"},{"col":240,"row":10,"t":"159","k":"t"},
 {"col":116,"row":11.2,"t":"25.18","k":"g"},{"col":116,"row":12.2,"t":"-0.35","k":"g"},{"col":116,"row":13.2,"t":"-1.37%","k":"g"},{"col":116,"row":14.2,"t":"1.76","k":"t"},{"col":116,"row":15.2,"t":"42.30%","k":"t"},{"col":116,"row":16.2,"t":"17万","k":"t"},{"col":116,"row":17.2,"t":"4.2亿","k":"r"},{"col":116,"row":18.3,"t":"74345","k":"r"},{"col":116,"row":19.3,"t":"28.08","k":"t"},
 {"col":240,"row":11.2,"t":"25.41","k":"g"},{"col":240,"row":12.2,"t":"25.47","k":"g"},{"col":240,"row":13.2,"t":"25.02","k":"g"},{"col":240,"row":14.2,"t":"25.22","k":"g"},{"col":240,"row":15.2,"t":"0.85","k":"t"},{"col":240,"row":16.2,"t":"0.08%","k":"t"},{"col":240,"row":17.2,"t":"10.24","k":"t"},{"col":240,"row":18.3,"t":"91756","k":"g"},{"col":240,"row":19.3,"t":"22.98","k":"t"},
 {"col":130,"row":21.5,"t":"25.20","k":"g"},{"col":130,"row":22.7,"t":"25.20","k":"g"},{"col":130,"row":23.9,"t":"25.20","k":"g"},{"col":130,"row":25.1,"t":"25.16","k":"g"},
 {"col":190,"row":21.5,"t":"100","k":"r"},{"col":190,"row":22.7,"t":"349","k":"r"},{"col":190,"row":23.9,"t":"167","k":"g"},{"col":190,"row":25.1,"t":"189","k":"g"},
 {"col":130,"row":27.9,"t":"25.20","k":"g"},{"col":130,"row":29.1,"t":"25.20","k":"g"},{"col":130,"row":30.3,"t":"25.20","k":"g"},{"col":130,"row":31.5,"t":"25.16","k":"g"},{"col":130,"row":32.7,"t":"25.20","k":"g"},{"col":130,"row":33.9,"t":"25.20","k":"g"},{"col":130,"row":35.1,"t":"25.18","k":"g"},
 {"col":190,"row":27.9,"t":"167","k":"g"},{"col":190,"row":29.1,"t":"7","k":"r"},{"col":190,"row":30.3,"t":"13","k":"r"},{"col":190,"row":31.5,"t":"189","k":"g"},{"col":190,"row":32.7,"t":"20","k":"r"},{"col":190,"row":33.9,"t":"23","k":"r"},{"col":190,"row":35.1,"t":"2","k":"g"}]},
 "mark":{"type":"text","align":"right","dy":1,"font":"Liberation Sans, Noto Sans CJK SC","fontWeight":"bold","fontSize":12.5},"encoding":{"text":{"field":"t"},"color":{"field":"k","type":"nominal","legend":null,"scale":{"domain":["g","r","t","k"],"range":["#007F00","#FF0000","#408088","#202020"]}}}},
 {"data":{"values":[
 {"col":7,"row":21.5,"t":"11:10","k":"k"},{"col":7,"row":22.7,"t":"11:10","k":"k"},{"col":7,"row":23.9,"t":"11:10","k":"k"},{"col":7,"row":25.1,"t":"11:10","k":"k"},{"col":1.5,"row":25.1,"t":">","k":"t"},
 {"col":7,"row":27.9,"t":"11:10","k":"k"},{"col":7,"row":29.1,"t":"11:10","k":"k"},{"col":7,"row":30.3,"t":"11:10","k":"k"},{"col":7,"row":31.5,"t":"11:10","k":"k"},{"col":7,"row":32.7,"t":"11:10","k":"k"},{"col":7,"row":33.9,"t":"11:10","k":"k"},{"col":7,"row":35.1,"t":"11:10","k":"k"},{"col":1.5,"row":35.1,"t":">","k":"t"}]},
 "mark":{"type":"text","align":"left","dy":1,"font":"Liberation Sans","fontWeight":"bold","fontSize":12.5},"encoding":{"text":{"field":"t"},"color":{"field":"k","type":"nominal","legend":null,"scale":{"domain":["g","r","t","k"],"range":["#007F00","#FF0000","#408088","#202020"]}}}}
 ]}
]}
